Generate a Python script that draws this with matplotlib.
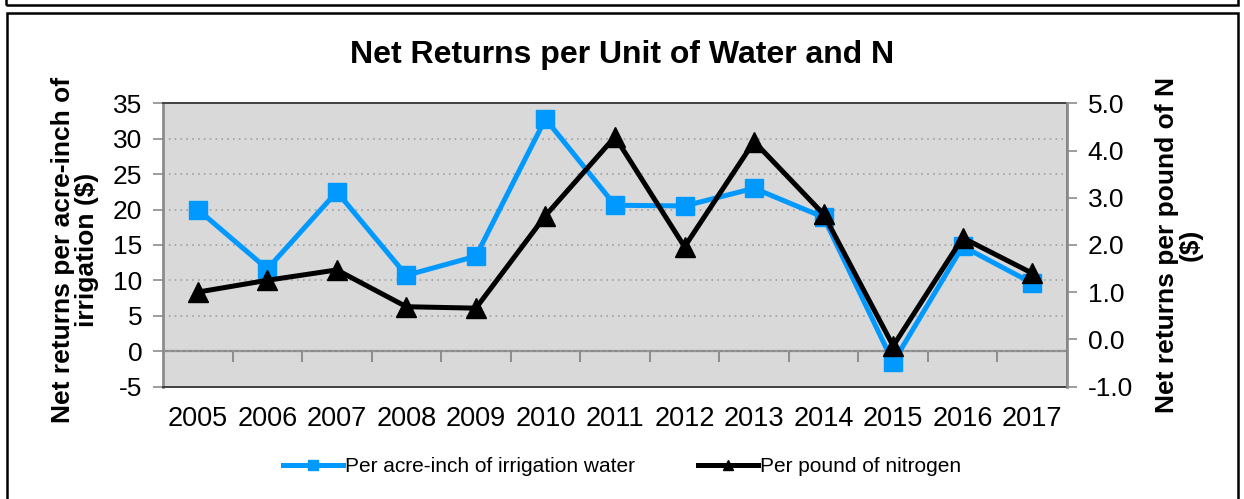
import numpy as np
import matplotlib
matplotlib.use("Agg")
import matplotlib.pyplot as plt
from matplotlib.patches import Rectangle

plt.rcParams['font.family'] = ['Liberation Sans', 'DejaVu Sans']
plt.rcParams['axes.unicode_minus'] = False

years = ['2005', '2006', '2007', '2008', '2009', '2010', '2011',
         '2012', '2013', '2014', '2015', '2016', '2017']
water = [20.0, 11.6, 22.5, 10.7, 13.4, 32.8, 20.6, 20.5, 23.0, 18.9, -1.6, 14.8, 9.6]
nitrogen = [1.0, 1.25, 1.47, 0.69, 0.66, 2.62, 4.29, 1.96, 4.19, 2.65, -0.14, 2.15, 1.4]

blue = '#0099FF'
grey = '#8C8C8C'

fig = plt.figure(figsize=(12.44, 4.99), dpi=100)

# outer frames like the original document
fig.patches.append(Rectangle((6/1244, 1 - 5/499), 1232/1244, 0.05, transform=fig.transFigure,
                             fill=False, edgecolor='black', linewidth=1.8, clip_on=False))
fig.patches.append(Rectangle((7/1244, -0.05), 1231/1244, 1.05 - 13/499, transform=fig.transFigure,
                             fill=False, edgecolor='black', linewidth=1.8, clip_on=False))

ax = fig.add_axes([163/1244, 1 - 386.5/499, 904/1244, 283.2/499])
ax.set_facecolor('#D9D9D9')
x = np.arange(len(years))

ax.set_xlim(-0.5, len(years) - 0.5)
ax.set_ylim(-5, 35)
ax.set_yticks(np.arange(-5, 36, 5))
ax.yaxis.grid(True, linestyle=(0, (1, 2.5)), color='#A0A0A0', linewidth=1.2)
ax.set_axisbelow(True)
ax.set_xticks(x)
ax.set_xticklabels(years)
ax.tick_params(axis='x', length=0, pad=14, labelsize=19.5)
ax.tick_params(axis='y', length=7, width=1.2, color=grey, labelsize=19, pad=8)
for s in ax.spines.values():
    s.set_color('#404040')
    s.set_linewidth(1.4)
ax.spines['left'].set_color(grey)
ax.spines['left'].set_linewidth(2)

# zero line with category dividers
sec = ax.secondary_xaxis(5 / 40)
sec.set_xticks(x[:-1] + 0.5)
sec.set_xticklabels([])
sec.tick_params(direction='out', length=8, width=1.4, color=grey)
sec.spines['bottom'].set_color(grey)
sec.spines['bottom'].set_linewidth(1.6)

l1, = ax.plot(x, water, color=blue, linewidth=3.6, marker='s', markersize=13,
              label='Per acre-inch of irrigation water', zorder=3)

ax2 = ax.twinx()
ax2.set_ylim(-1, 5)
ax2.set_yticks(np.arange(-1, 5.1, 1))
ax2.set_yticklabels(['%.1f' % v for v in np.arange(-1, 5.1, 1)])
ax2.tick_params(axis='y', length=7, width=1.2, color=grey, labelsize=19, pad=8)
ax2.spines['right'].set_color(grey)
ax2.spines['right'].set_linewidth(2)
for k in ['top', 'bottom', 'left']:
    ax2.spines[k].set_visible(False)
l2, = ax2.plot(x, nitrogen, color='black', linewidth=3.6, marker='^', markersize=14,
               label='Per pound of nitrogen', zorder=3)

fig.text(0.5, 1 - 55/499, 'Net Returns per Unit of Water and N', ha='center', va='center',
         fontsize=23, fontweight='bold')
fig.text(75/1244, 1 - 250/499, 'Net returns per acre-inch of\nirrigation ($)', rotation=90,
         ha='center', va='center', fontsize=19, fontweight='bold', linespacing=1.0)
fig.text(1179/1244, 1 - 245/499, 'Net returns per pound of N\n($)', rotation=90,
         ha='center', va='center', fontsize=19, fontweight='bold', linespacing=1.0)

h1 = plt.Line2D([], [], color=blue, linewidth=3.6, marker='s', markersize=7)
h2 = plt.Line2D([], [], color='black', linewidth=3.6, marker='^', markersize=7)
fig.legend([h1, h2], [l1.get_label(), l2.get_label()], loc='center', ncol=2,
           bbox_to_anchor=(0.5, 1 - 467/499), frameon=False, fontsize=15,
           handlelength=2.9, handletextpad=0.1, columnspacing=3.0)

fig.savefig('out.png', dpi=100)
